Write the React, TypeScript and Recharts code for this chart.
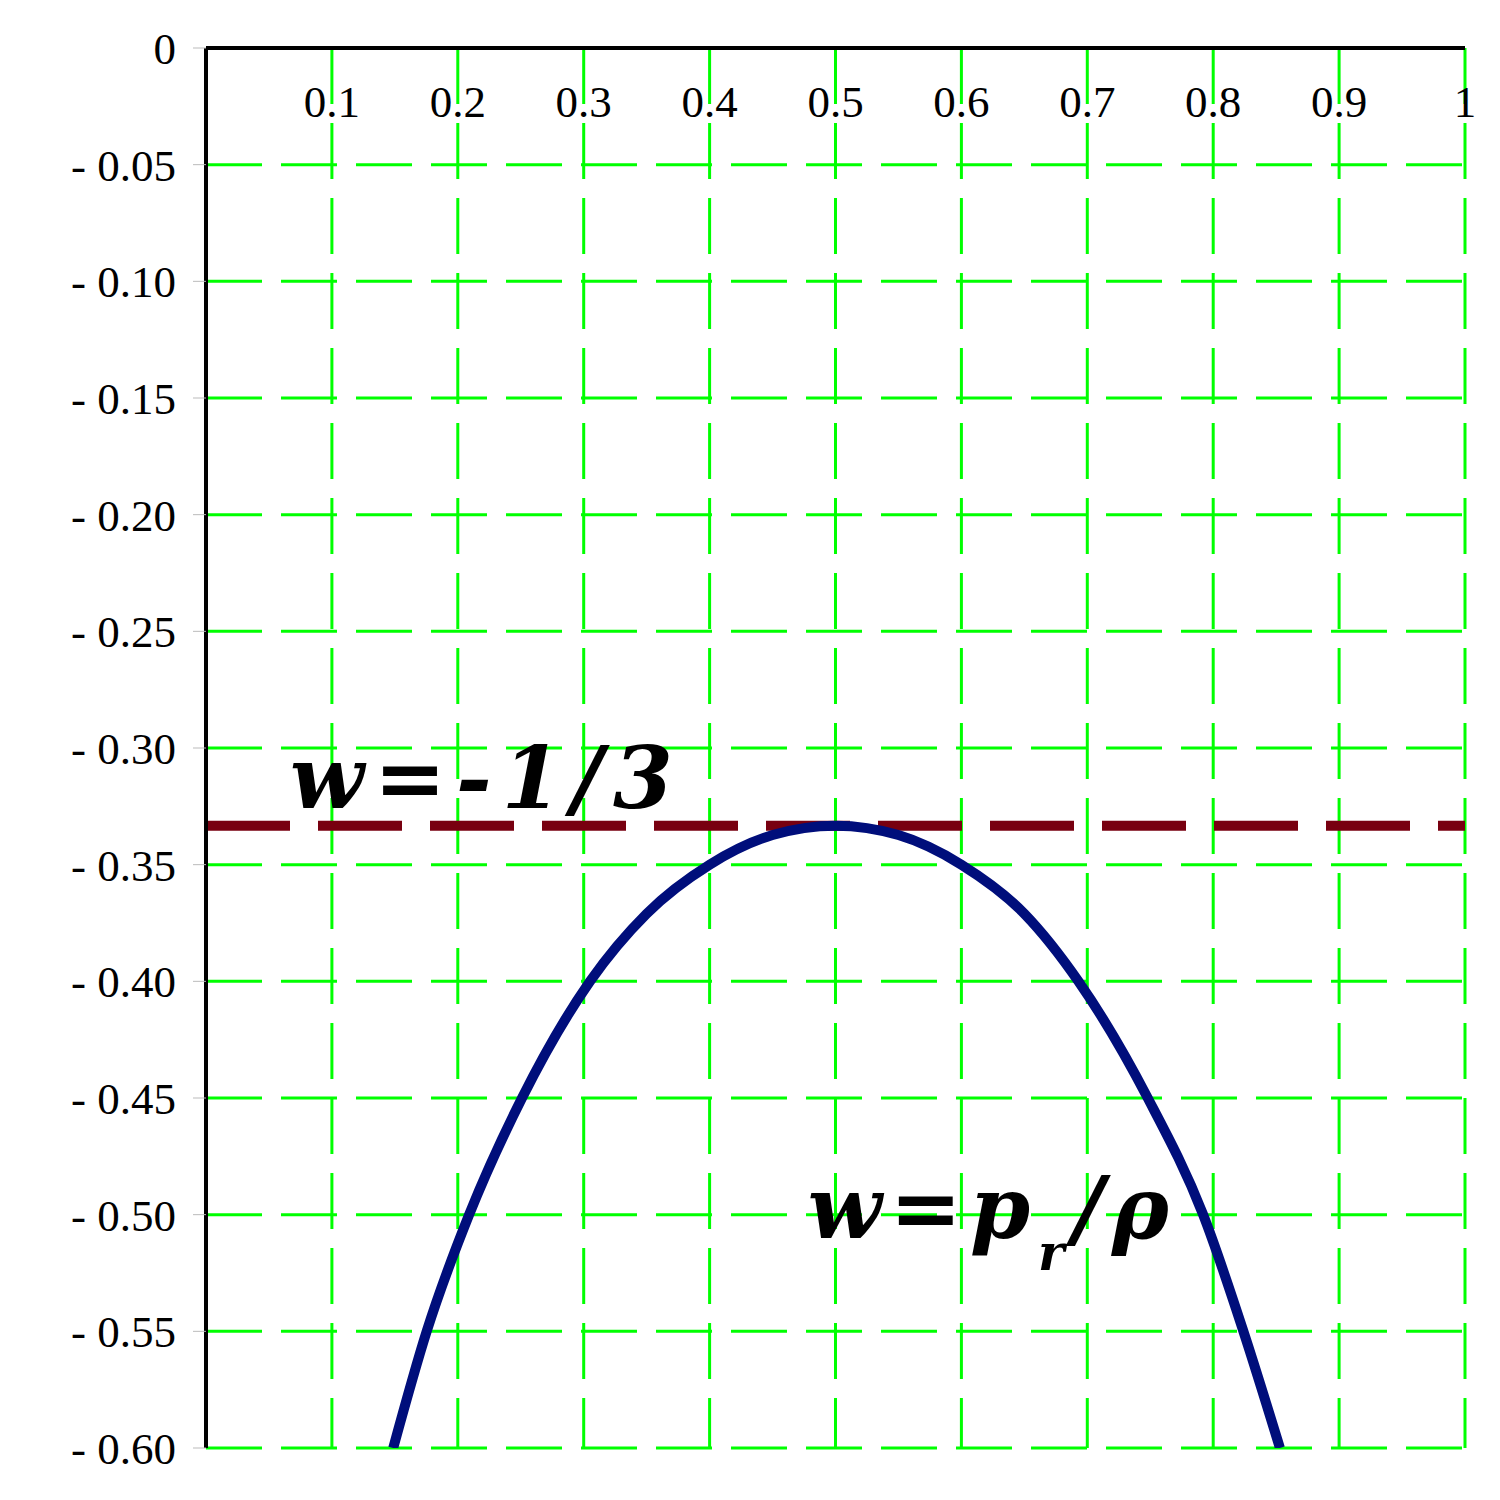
import {
  LineChart,
  Line,
  XAxis,
  YAxis,
  CartesianGrid,
  ReferenceLine,
  ReferenceDot
} from 'recharts'

// curve w = p_r / rho
const rhoX = [0.1487, 0.1753, 0.209, 0.251, 0.305, 0.35, 0.4, 0.45, 0.5, 0.55, 0.6, 0.65, 0.693, 0.748, 0.792, 0.824, 0.853]
const wValues = [-0.6, -0.55, -0.5, -0.45, -0.4, -0.371, -0.35, -0.3373, -0.3333, -0.3373, -0.35, -0.371, -0.4, -0.45, -0.5, -0.55, -0.6]

const xTicks = [0, 0.1, 0.2, 0.3, 0.4, 0.5, 0.6, 0.7, 0.8, 0.9, 1]
const yTicks = [0, -0.05, -0.1, -0.15, -0.2, -0.25, -0.3, -0.35, -0.4, -0.45, -0.5, -0.55, -0.6]
const wLimit = -1 / 3

const data = rhoX.map((x, i) => ({ x, w: wValues[i] }))

const SERIF = '"Liberation Serif", "Times New Roman", serif'
const MATH = '"DejaVu Serif", serif'
const PLOT_TOP = 40

const XTick = (props: any) => {
  const { x, payload } = props
  if (payload.value === 0) return <g />
  return (
    <text x={x} y={PLOT_TOP + 69} textAnchor="middle" fontFamily={SERIF} fontSize={45} fill="#000">
      {String(payload.value)}
    </text>
  )
}

const fmtY = (v: number) => (v === 0 ? '0' : '- ' + Math.abs(v).toFixed(2))

const LimitLabel = (props: any) => {
  const { viewBox } = props
  return (
    <text
      x={viewBox.x + 84}
      y={viewBox.y - 18}
      fontFamily={MATH}
      fontWeight="bold"
      fontStyle="italic"
      fontSize={86}
      letterSpacing={10}
      fill="#000"
    >
      w=-1/3
    </text>
  )
}

const CurveLabel = (props: any) => {
  const { viewBox } = props
  const x = viewBox.x + viewBox.width / 2
  const y = viewBox.y + viewBox.height / 2
  return (
    <text
      x={x}
      y={y}
      fontFamily={MATH}
      fontWeight="bold"
      fontStyle="italic"
      fontSize={86}
      letterSpacing={8}
      fill="#000"
    >
      w=p
      <tspan fontSize={50} dy={32}>r</tspan>
      <tspan dy={-32}>/ρ</tspan>
    </text>
  )
}

export default function App() {
  return (
    <LineChart
      width={1484}
      height={1484}
      data={data}
      margin={{ top: PLOT_TOP - 30, right: 27, bottom: 44, left: 0 }}
    >
      <CartesianGrid stroke="#00ff00" strokeWidth={3} strokeDasharray="56 19" />
      <XAxis
        dataKey="x"
        type="number"
        orientation="top"
        domain={[0, 1]}
        ticks={xTicks}
        height={30}
        tickLine={false}
        axisLine={{ stroke: '#000', strokeWidth: 4 }}
        tick={<XTick />}
        allowDataOverflow
      />
      <YAxis
        type="number"
        domain={[-0.6, 0]}
        ticks={yTicks}
        width={198}
        tickFormatter={fmtY}
        tickSize={13}
        tickMargin={17}
        tickLine={{ stroke: '#bbbbbb', strokeWidth: 1 }}
        axisLine={{ stroke: '#000', strokeWidth: 4 }}
        tick={{ fill: '#000', fontSize: 45, fontFamily: SERIF }}
        allowDataOverflow
      />
      <ReferenceLine
        y={wLimit}
        stroke="#780010"
        strokeWidth={10}
        strokeDasharray="84 28"
        label={<LimitLabel />}
      />
      <Line
        type="monotone"
        dataKey="w"
        stroke="#000e7b"
        strokeWidth={10}
        dot={false}
        isAnimationActive={false}
      />
      <ReferenceDot
        x={0.478}
        y={-0.51}
        r={1}
        fill="none"
        stroke="none"
        label={<CurveLabel />}
      />
    </LineChart>
  )
}
